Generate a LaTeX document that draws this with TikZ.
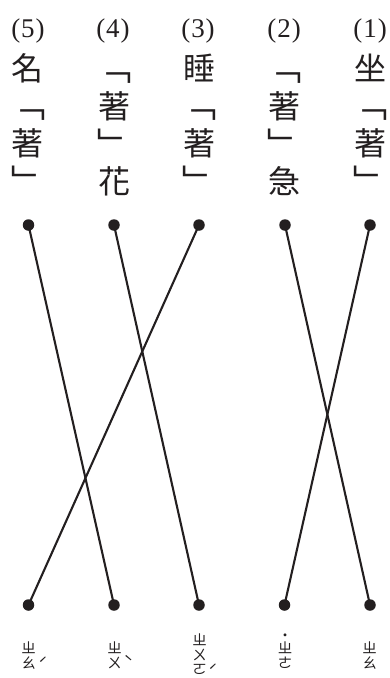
\documentclass[tikz,border=0pt]{standalone}
\usepackage{fontspec}
\setmainfont{Liberation Serif}
\newfontfamily\cjk{Noto Sans CJK TC}
\definecolor{ink}{HTML}{231F20}
\begin{document}
\begin{tikzpicture}[x=1pt,y=-1pt,
  hanzi/.style={font=\cjk\fontsize{32}{32}\selectfont, inner sep=0pt, text=ink},
  brk/.style={font=\cjk\fontsize{34}{34}\selectfont, inner sep=0pt, text=ink},
  numlab/.style={font=\fontsize{27}{27}\selectfont, inner sep=0pt, text=ink},
  zy/.style={font=\cjk\fontsize{14.5}{14.5}\selectfont, inner sep=0pt, text=ink},
  tone/.style={font=\cjk\fontsize{16}{16}\selectfont, inner sep=0pt, text=ink},
  dotnode/.style={circle, fill=ink, inner sep=0pt, minimum size=11.5pt},
  link/.style={draw=ink, line width=2.1pt}]
\useasboundingbox (0,0) rectangle (389,678);
% numbers
\node[numlab] (n5) at (28,31.5) {(\kern1pt5\kern1pt)};
\node[numlab] (n4) at (113,31.5) {(\kern1pt4\kern1pt)};
\node[numlab] (n3) at (198,31.5) {(\kern1pt3\kern1pt)};
\node[numlab] (n2) at (284,31.5) {(\kern1pt2\kern1pt)};
\node[numlab] (n1) at (370,31.5) {(\kern1pt1\kern1pt)};
% column 5
\node[hanzi] (a5) at (28,68) {名};
\node[brk] (b5) at (28.5,115) {﹁};
\node[hanzi] (c5) at (28,143) {著};
\node[brk] (d5) at (28.5,180) {﹂};
% column 4
\node[brk] (a4) at (114,78.5) {﹁};
\node[hanzi] (b4) at (114,106) {著};
\node[brk] (c4) at (114,143) {﹂};
\node[hanzi] (d4) at (114,181) {花};
% column 3
\node[hanzi] (a3) at (199,68) {睡};
\node[brk] (b3) at (199.5,115) {﹁};
\node[hanzi] (c3) at (199,143) {著};
\node[brk] (d3) at (199.5,180) {﹂};
% column 2
\node[brk] (a2) at (284.5,78.5) {﹁};
\node[hanzi] (b2) at (284,106) {著};
\node[brk] (c2) at (284.5,143) {﹂};
\node[hanzi] (d2) at (284,181) {急};
% column 1
\node[hanzi] (a1) at (370,68) {坐};
\node[brk] (b1) at (370.5,115) {﹁};
\node[hanzi] (c1) at (370,143) {著};
\node[brk] (d1) at (370.5,180) {﹂};
% dots
\node[dotnode] (t5) at (28.5,225) {};
\node[dotnode] (t4) at (114,225) {};
\node[dotnode] (t3) at (199,225) {};
\node[dotnode] (t2) at (285,225) {};
\node[dotnode] (t1) at (370,225) {};
\node[dotnode] (u5) at (28.5,605) {};
\node[dotnode] (u4) at (114,605) {};
\node[dotnode] (u3) at (199,605) {};
\node[dotnode] (u2) at (284.5,605) {};
\node[dotnode] (u1) at (370,605) {};
% links
\draw[link] (t5.center) -- (u4.center);
\draw[link] (t4.center) -- (u3.center);
\draw[link] (t3.center) -- (u5.center);
\draw[link] (t2.center) -- (u1.center);
\draw[link] (t1.center) -- (u2.center);
% bopomofo
\node[zy] (z5a) at (28.5,647.5) {ㄓ};
\node[zy] (z5b) at (28.5,663) {ㄠ};
\node[tone] (z5t) at (43,663.2) {ˊ};
\node[zy] (z4a) at (114.5,648) {ㄓ};
\node[zy] (z4b) at (114.5,663) {ㄨ};
\node[tone] (z4t) at (128.5,662.2) {ˋ};
\node[zy] (z3a) at (199.5,640) {ㄓ};
\node[zy] (z3b) at (199.5,654.5) {ㄨ};
\node[zy] (z3c) at (199.5,669) {ㄛ};
\node[tone] (z3t) at (213,670.8) {ˊ};
\node[tone] (z2t) at (285,637.3) {˙};
\node[zy] (z2a) at (285,648) {ㄓ};
\node[zy] (z2b) at (285,663) {ㄜ};
\node[zy] (z1a) at (369.5,647.5) {ㄓ};
\node[zy] (z1b) at (369.5,663) {ㄠ};
\end{tikzpicture}
\end{document}
